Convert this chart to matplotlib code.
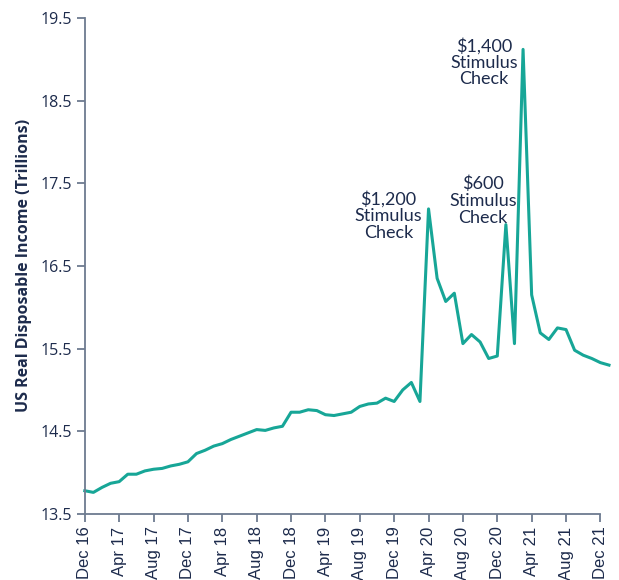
import matplotlib.pyplot as plt

# Monthly US real disposable income, Dec 2016 .. Jan 2022 (trillions)
income = [
    13.78, 13.76, 13.82, 13.87, 13.89, 13.98, 13.98, 14.02, 14.04, 14.05,
    14.08, 14.10, 14.13, 14.23, 14.27, 14.32, 14.35, 14.40, 14.44, 14.48,
    14.52, 14.51, 14.54, 14.56, 14.73, 14.73, 14.76, 14.75, 14.70, 14.69,
    14.71, 14.73, 14.80, 14.83, 14.84, 14.90, 14.86, 15.00, 15.09, 14.86,
    17.19, 16.35, 16.07, 16.17, 15.56, 15.67, 15.58, 15.38, 15.41, 17.00,
    15.56, 19.12, 16.15, 15.69, 15.61, 15.75, 15.73, 15.48, 15.42, 15.38,
    15.33, 15.30,
]
tick_labels = ["Dec 16", "Apr 17", "Aug 17", "Dec 17", "Apr 18", "Aug 18",
               "Dec 18", "Apr 19", "Aug 19", "Dec 19", "Apr 20", "Aug 20",
               "Dec 20", "Apr 21", "Aug 21", "Dec 21"]
y_ticks = [13.5, 14.5, 15.5, 16.5, 17.5, 18.5, 19.5]

# (month index of the peak, label)
stimulus = [(40, "$1,200\nStimulus\nCheck"),
            (49, "$600\nStimulus\nCheck"),
            (51, "$1,400\nStimulus\nCheck")]
label_offsets = [(-40, -7), (-23, 24), (-39, -13)]  # pixels

LINE_COLOR = '#17a697'
AXIS_COLOR = '#6d7b90'
TEXT_COLOR = '#1d2b4c'

fig = plt.figure(figsize=(6.19, 5.8), dpi=100)
ax = fig.add_axes([0.137, 0.114, 0.851, 0.855])

months = list(range(len(income)))
ax.plot(months, income, color=LINE_COLOR, linewidth=2.2, clip_on=False)

for (idx, text), (dx, dy) in zip(stimulus, label_offsets):
    ax.annotate(text, xy=(idx, income[idx]), xytext=(dx, dy),
                textcoords='offset pixels', ha='center', va='center',
                multialignment='center', fontsize=13, color=TEXT_COLOR,
                family='Lato', linespacing=1.05)

ax.set_xlim(0, 61.3)
ax.set_ylim(13.5, 19.5)
ax.set_xticks(range(0, 61, 4))
ax.set_xticklabels(tick_labels, rotation=90, fontsize=12,
                   family='Liberation Sans', color=TEXT_COLOR)
ax.set_yticks(y_ticks)
ax.set_yticklabels([f"{v:.1f}" for v in y_ticks], fontsize=11.5,
                   family='Open Sans', color=TEXT_COLOR)
ax.set_ylabel("US Real Disposable Income (Trillions)", fontsize=11.5,
              family='Open Sans', fontweight='bold', color=TEXT_COLOR, labelpad=6)

for side in ['top', 'right']:
    ax.spines[side].set_visible(False)
for side in ['left', 'bottom']:
    ax.spines[side].set_color(AXIS_COLOR)
    ax.spines[side].set_linewidth(1.3)
ax.spines['bottom'].set_bounds(0, 60)
ax.tick_params(axis='both', color=AXIS_COLOR, width=1.3, length=6, pad=3)

plt.savefig('out.png', dpi=100, facecolor='white')
